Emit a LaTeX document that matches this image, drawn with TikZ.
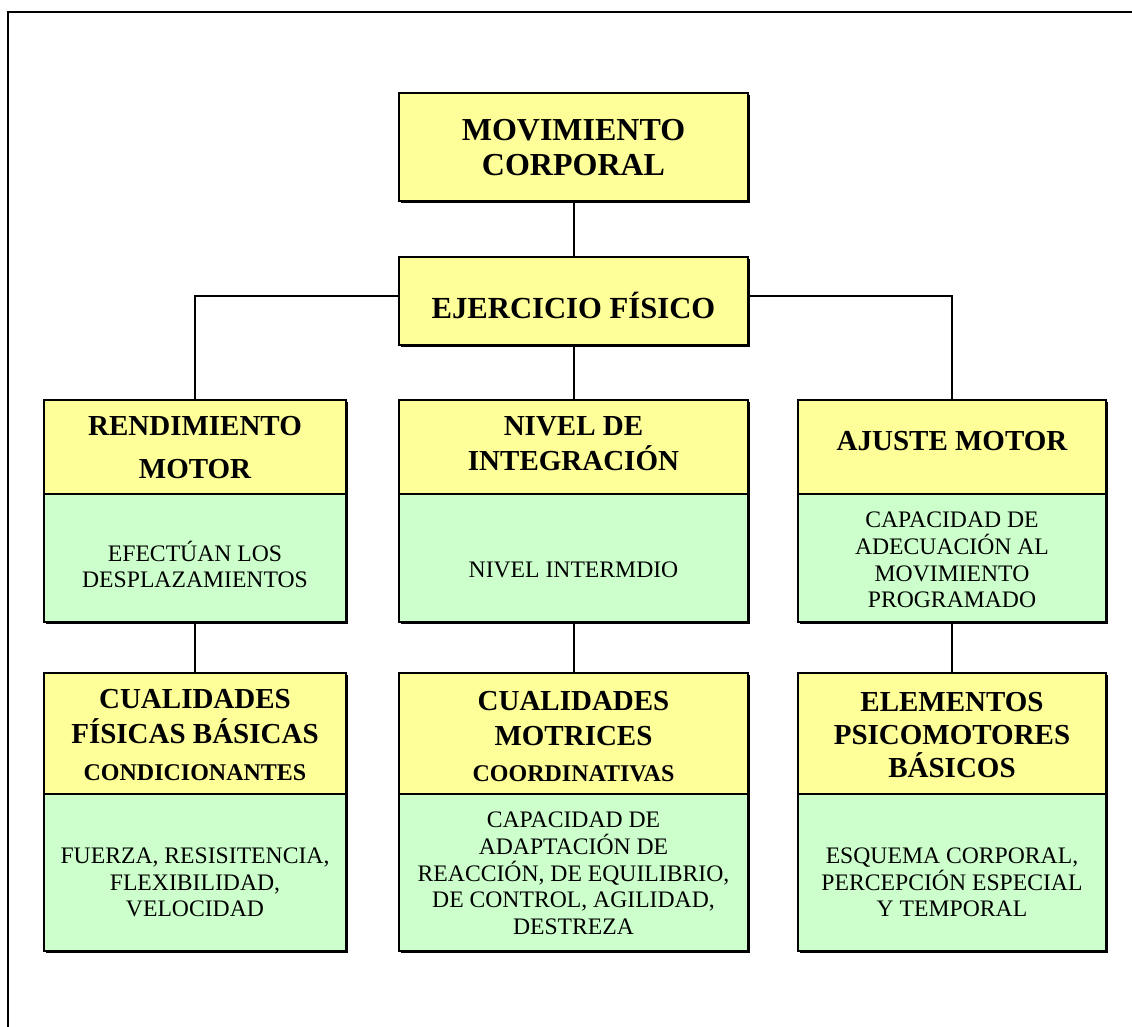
\documentclass[tikz,border=0pt]{standalone}
\usepackage{fontspec}
\setmainfont{Liberation Serif}
\usetikzlibrary{shadows}

\definecolor{amarillo}{HTML}{FFFF99}
\definecolor{verde}{HTML}{CCFFCC}

\tikzset{
  caja/.style={draw, line width=1.5pt, inner sep=0pt,
    drop shadow={shadow xshift=1.2pt, shadow yshift=-1.2pt, opacity=1, fill=black}},
  amar/.style={caja, fill=amarillo},
  verd/.style={caja, fill=verde},
  izq/.style={minimum width=226.5pt},
  cen/.style={minimum width=261.75pt},
  der/.style={minimum width=231pt},
  titulo/.style={align=center, inner sep=0pt, font=\bfseries\fontsize{21.75}{26.25}\selectfont},
  texto/.style={align=center, inner sep=0pt, font=\fontsize{17.75}{20}\selectfont}
}

\begin{document}
\begin{tikzpicture}[x=0.75pt,y=-0.75pt,line width=1.5pt]
\useasboundingbox (0,0) rectangle (1132,1027);
\draw (8,1027) -- (8,12) -- (1132,12);

% cajas
\node[amar,cen,minimum height=81pt] (mc) at (573.5,147) {};
\node[amar,cen,minimum height=66pt] (ef) at (573.5,301) {};

\node[amar,izq,minimum height=70.5pt] (rend) at (195,447) {};
\node[amar,cen,minimum height=70.5pt] (nivel) at (573.5,447) {};
\node[amar,der,minimum height=70.5pt] (ajuste) at (952,447) {};
\node[verd,izq,minimum height=96pt] (rendb) at (195,558) {};
\node[verd,cen,minimum height=96pt] (nivelb) at (573.5,558) {};
\node[verd,der,minimum height=96pt] (ajusteb) at (952,558) {};

\node[amar,izq,minimum height=90.75pt] (cfb) at (195,733.5) {};
\node[amar,cen,minimum height=90.75pt] (cmc) at (573.5,733.5) {};
\node[amar,der,minimum height=90.75pt] (epb) at (952,733.5) {};
\node[verd,izq,minimum height=117.75pt] (cfbb) at (195,872.5) {};
\node[verd,cen,minimum height=117.75pt] (cmcb) at (573.5,872.5) {};
\node[verd,der,minimum height=117.75pt] (epbb) at (952,872.5) {};

% uniones
\draw (mc) -- (ef);
\draw ([yshift=3.75pt]ef.west) -| (rend.north);
\draw (ef) -- (nivel);
\draw ([yshift=3.75pt]ef.east) -| (ajuste.north);
\draw (rendb) -- (cfb);
\draw (nivelb) -- (cmc);
\draw (ajusteb) -- (epb);

% textos
\node[titulo,font=\bfseries\fontsize{24}{26.25}\selectfont] (mct) at (573.5,148) {MOVIMIENTO\\CORPORAL};
\node[titulo,font=\bfseries\fontsize{23}{26.25}\selectfont] (eft) at (573.5,305.5) {EJERCICIO FÍSICO};
\node[titulo] (rendt) at (195,448) {RENDIMIENTO\\[6pt]MOTOR};
\node[titulo] (nivelt) at (573.5,444) {NIVEL DE\\INTEGRACIÓN};
\node[titulo] (ajustet) at (952,441) {AJUSTE MOTOR};
\node[texto] (rendbt) at (195,564.5) {EFECTÚAN LOS\\DESPLAZAMIENTOS};
\node[texto] (nivelbt) at (573.5,569.5) {NIVEL INTERMDIO};
\node[texto] (ajustebt) at (952,560) {CAPACIDAD DE\\ADECUACIÓN AL\\MOVIMIENTO\\PROGRAMADO};

\node[titulo] (cfbt) at (195,735) {CUALIDADES\\FÍSICAS BÁSICAS\\[1pt]{\fontsize{18}{20}\selectfont CONDICIONANTES}};
\node[titulo] (cmct) at (573.5,736.5) {CUALIDADES\\MOTRICES\\[1pt]{\fontsize{18}{20}\selectfont COORDINATIVAS}};
\node[titulo,font=\bfseries\fontsize{21.75}{25}\selectfont] (epbt) at (952,735) {ELEMENTOS\\PSICOMOTORES\\BÁSICOS};
\node[texto] (cfbbt) at (195,882.5) {FUERZA, RESISITENCIA,\\FLEXIBILIDAD,\\VELOCIDAD};
\node[texto] (cmcbt) at (573.5,873.5) {CAPACIDAD DE\\ADAPTACIÓN DE\\REACCIÓN, DE EQUILIBRIO,\\DE CONTROL, AGILIDAD,\\DESTREZA};
\node[texto] (epbbt) at (952,882.5) {ESQUEMA CORPORAL,\\PERCEPCIÓN ESPECIAL\\Y TEMPORAL};
\end{tikzpicture}
\end{document}
